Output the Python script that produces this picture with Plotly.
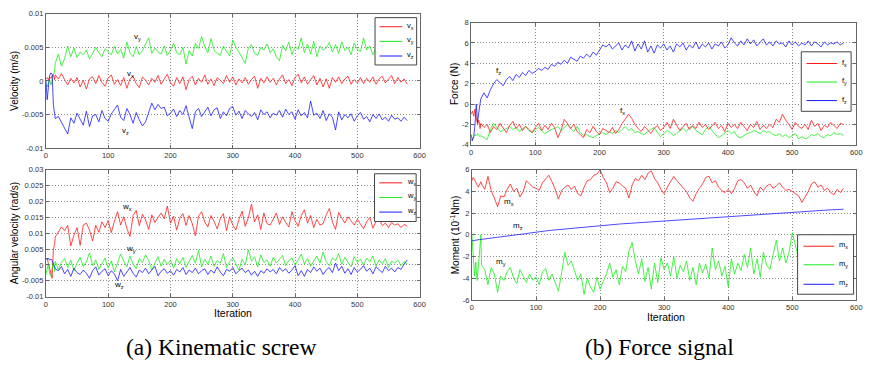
import plotly.graph_objects as go

W, H = 869, 369

# Iteration index: dense over the start-up transient, then every 5 iterations
iteration = list(range(0, 16, 2)) + list(range(15, 585, 5))

# ---- Kinematic screw: linear velocity, in 1e-3 m/s ----
vx_milli = [
    0.3, 0.5, 0.2, 0.6, 0.4, 0.8, 1.0, 0.2,
    0.9, 0.3, 1.1, 0.2, -0.6, 0.4, -0.3, 0.5, -0.9, 0.1,
    -1.2, 0.3, 0.6, -0.4, 0.8, -0.2, -0.8, 0.4, 0.9, -0.5,
    0.2, -0.7, 0.5, -1.1, 0.3, 0.7, -0.4, -1.0, 0.6, 0.1,
    -0.6, 0.4, -0.2, 0.8, -0.5, 0.3, 1.0, -0.3, -0.8, 0.5,
    -0.4, 0.6, -1.3, 0.2, 0.7, -0.6, 0.4, -0.2, 0.9, -0.5,
    0.3, -0.7, 0.5, 0.1, -0.4, 0.8, -0.2, 0.6, -0.6, 0.3,
    -0.3, 0.5, -0.5, 0.2, 0.7, -1.1, 0.4, -0.3, 0.6, -0.2,
    0.4, -0.6, 0.3, 0.9, -0.4, 0.2, -0.7, 0.5, 1.0, -0.3,
    0.6, -0.5, 0.2, 0.8, -0.6, 0.4, -0.9, 0.3, -1.1, 0.5,
    -0.2, 0.6, -0.4, 0.3, 0.7, -0.5, 0.2, -0.3, 0.5, -0.4,
    0.4, -0.2, 0.6, -0.5, 0.3, 0.7, -0.3, 0.2, 0.8, -0.4,
    0.5, -0.2, 0.3, -0.5,
]
vy_milli = [
    -0.5, -0.9, -0.3, 0.2, -0.6, 0.1, 0.8, 1.5,
    2.6, 4.0, 2.2, 3.3, 5.2, 3.6, 4.9, 3.5, 4.3, 3.9,
    4.6, 3.3, 4.1, 5.0, 4.2, 3.6, 4.8, 4.4, 3.9, 5.2,
    4.0, 4.7, 3.4, 5.8, 4.2, 3.6, 5.1, 3.9, 4.5, 5.5,
    6.4, 4.1, 4.9, 4.3, 4.0, 5.2, 3.8, 4.6, 5.6, 4.2,
    3.9, 5.0, 2.5, 4.5, 3.7, 5.6, 4.8, 6.6, 5.1, 4.2,
    6.3, 4.6, 4.1, 3.8, 5.2, 4.4, 3.7, 6.1, 5.0, 4.3,
    3.5, 2.6, 4.9, 5.4, 4.1, 3.8, 5.0, 4.6, 5.5, 4.2,
    4.8, 3.6, 3.0, 5.3, 4.5, 5.8, 3.9, 5.1, 4.7, 6.4,
    4.2, 5.5, 4.0, 5.9, 3.6, 5.2, 4.6, 4.9, 5.7, 4.3,
    5.4, 4.1, 5.8, 4.5, 5.0, 3.9, 5.6, 4.7, 4.4, 6.4,
    4.6, 5.2, 3.9, 5.0, 4.8, 5.4, 4.4, 5.1, 4.7, 5.3,
    4.9, 4.5, 5.2, 4.8,
]
vz_milli = [
    0.2, -2.8, -1.0, 0.8, 1.2, 1.0, -3.5, -5.2,
    -5.6, -5.3, -6.2, -7.0, -7.9, -5.5, -6.3, -4.8, -5.8, -6.6,
    -4.5, -6.8, -5.2, -5.0, -6.1, -4.4, -5.6, -6.0, -4.9, -4.2,
    -3.6, -5.4, -5.9, -4.1, -5.0, -6.3, -4.7, -5.8, -6.7, -6.1,
    -4.6, -3.3, -4.3, -3.5, -4.1, -3.9, -5.2, -4.8, -4.2, -5.3,
    -4.4, -5.0, -3.7, -5.5, -7.1, -4.6, -4.1, -5.3, -4.5, -3.9,
    -5.2, -4.3, -4.0, -5.6, -4.6, -5.2, -4.1, -3.8, -5.1, -4.5,
    -5.6, -4.4, -4.9, -5.3, -4.7, -5.8, -4.3, -5.0, -4.6, -5.5,
    -4.8, -5.1, -4.4, -5.4, -4.2, -5.0, -4.6, -5.7, -4.3, -5.2,
    -4.7, -5.5, -3.0, -5.1, -4.8, -5.6, -4.4, -5.9, -4.9, -5.4,
    -7.3, -4.6, -5.8, -5.0, -5.5, -4.9, -6.0, -5.2, -4.7, -5.7,
    -5.3, -6.1, -5.0, -5.6, -4.9, -5.8, -5.4, -6.0, -5.1, -5.7,
    -5.5, -6.0, -5.4, -5.9,
]

# ---- Kinematic screw: angular velocity, in 1e-3 rad/s ----
wx_milli = [
    1.8, 2.2, 0.5, -1.2, -3.0, -4.2, 5.0, 6.5,
    8.8, 10.5, 12.0, 10.8, 12.5, 6.0, 9.4, 11.8, 6.2, 12.6,
    13.2, 11.0, 7.6, 12.5, 10.3, 13.6, 11.8, 14.0, 10.2, 13.8,
    16.8, 12.6, 15.2, 11.5, 9.0, 15.6, 17.2, 12.4, 16.0, 14.2,
    11.2, 15.8, 13.4, 15.0, 16.4, 14.6, 18.6, 13.2, 15.4, 11.0,
    14.8, 16.2, 12.5, 15.6, 13.0, 9.2, 15.4, 16.8, 13.6, 12.0,
    15.6, 13.8, 11.4, 14.6, 16.2, 10.8, 15.2, 12.6, 11.0, 14.4,
    17.0, 12.2, 14.8, 19.2, 13.6, 15.8, 11.2, 16.4, 13.0, 12.6,
    14.6, 16.4, 12.8, 15.2, 13.4, 12.0, 16.8, 14.0, 12.2, 15.6,
    17.4, 13.2, 15.6, 11.8, 14.4, 12.6, 13.0, 15.8, 17.8, 13.6,
    11.2, 16.6, 14.8, 13.2, 15.2, 14.0, 12.6, 14.4, 13.0, 11.4,
    13.6, 15.0, 11.6, 13.8, 14.6, 12.4, 13.2, 11.8, 13.4, 12.6,
    13.0, 11.8, 12.8, 12.2,
]
wy_milli = [
    -3.0, -1.5, 0.5, -2.8, -3.5, -1.0, 0.8, -2.0,
    1.2, -1.5, 0.8, 2.0, -0.8, 1.5, -1.8, 0.6, 2.4, -0.5,
    1.0, 3.8, -0.2, 1.6, -1.4, 0.4, 2.2, -0.9, 1.3, -2.2,
    0.5, 3.5, 1.2, -0.6, 2.8, 0.3, -1.2, 2.0, 0.8, 3.2,
    1.4, -1.6, 0.6, 2.6, -0.4, 1.8, 0.2, 1.5, -1.0, 2.0,
    0.4, 2.4, -0.8, 1.2, 3.0, 0.6, 4.6, -0.6, 1.8, 0.2,
    2.8, -0.4, 1.4, 0.6, 3.6, -0.8, 1.0, 2.2, 0.4, -1.6,
    1.8, 0.0, 4.8, 1.2, 2.6, -0.6, 3.2, 0.8, 1.6, -0.4,
    2.4, 0.6, 1.8, 3.0, -0.2, 1.4, 2.2, 0.0, 1.6, 3.4,
    0.4, 2.0, -0.4, 1.2, 2.8, 0.6, 4.0, 1.0, -0.2, 2.2,
    1.4, 3.6, 0.2, 2.4, 1.0, -0.6, 2.6, 0.8, 1.8, 0.0,
    2.2, 1.0, 2.8, -0.4, 1.6, 0.4, 2.0, -0.8, 1.2, 0.6,
    1.6, -0.2, 1.0, 0.4,
]
wz_milli = [
    2.0, 1.8, 2.2, 1.5, 1.9, 1.4, 0.2, -0.6,
    -1.2, -1.8, -0.5, -2.8, -1.4, -3.6, -1.0, -2.4, -3.0, -1.6,
    -2.6, -4.2, -1.8, -0.6, -3.2, -2.0, -1.2, -3.4, -1.8, -2.8,
    -5.0, -1.4, -3.6, -2.2, -0.8, -2.6, -3.8, -1.6, -2.4, -1.0,
    -2.8, -1.6, -0.4, -3.4, -2.0, -1.2, -2.6, -1.8, -3.2, -1.4,
    -2.2, -0.8, -3.0, -1.6, -2.4, -1.0, -2.8, -1.8, -1.2, -3.0,
    -1.6, -2.6, -0.6, -2.2, -3.4, -1.4, -2.0, -0.8, -2.8, -1.8,
    -1.0, -2.4, -1.6, -3.2, -2.0, -3.6, -1.8, -2.6, -1.2, -2.2,
    -1.4, -2.8, -0.8, -2.0, -1.2, -2.6, -1.6, -0.2, -3.4, -1.8,
    -3.6, -1.4, -2.4, -0.6, -2.0, -1.0, -3.0, -1.6, -0.8, -2.4,
    0.6, -1.8, -0.4, -2.6, -1.2, -3.0, -0.8, -2.2, -1.4, -0.2,
    -2.0, -1.0, -2.8, -0.6, -1.6, -2.4, -0.4, -1.8, -1.0, -2.2,
    -0.8, -1.4, 0.2, 1.6,
]

# ---- Force signal: force in N ----
fx = [
    -1.0, -0.7, -1.2, -0.5, -1.4, -2.0, -1.6, -2.4,
    -1.9, -2.3, -2.0, -2.8, -2.2, -2.5, -1.9, -2.3, -2.8, -2.1,
    -1.7, -2.4, -2.0, -2.6, -2.2, -2.5, -2.8, -2.3, -1.9, -2.6,
    -2.1, -2.5, -1.9, -2.3, -3.3, -2.6, -1.5, -1.9, -2.4, -2.0,
    -2.7, -3.0, -3.3, -2.5, -2.8, -2.2, -2.7, -3.0, -2.4, -2.6,
    -2.8, -2.3, -2.9, -2.5, -1.9, -1.5, -1.0, -1.4, -2.0, -2.4,
    -2.7, -2.2, -2.5, -2.9, -2.4, -2.1, -2.6, -2.3, -1.8, -2.4,
    -1.5, -2.0, -2.6, -2.2, -1.9, -2.5, -2.1, -2.4, -1.8, -2.3,
    -2.0, -2.5, -2.2, -1.8, -2.4, -2.1, -2.7, -1.9, -2.3, -2.0,
    -2.4, -1.8, -2.2, -2.6, -2.0, -2.3, -1.7, -2.5, -2.1, -2.4,
    -2.0, -2.3, -1.5, -1.8, -1.0, -1.6, -2.0, -2.5, -1.8, -2.2,
    -2.4, -2.0, -2.5, -1.6, -2.2, -1.9, -2.6, -2.1, -2.3, -1.8,
    -2.1, -2.4, -1.9, -2.0,
]
fy = [
    -3.6, -3.4, -3.3, -3.0, -3.1, -2.9, -3.1, -3.2,
    -3.1, -3.3, -3.5, -2.5, -1.9, -2.3, -2.7, -2.6, -2.4, -2.2,
    -2.5, -2.3, -2.7, -2.4, -2.2, -2.6, -2.8, -2.5, -2.3, -2.6,
    -2.9, -2.7, -2.5, -2.4, -2.2, -2.6, -2.3, -2.0, -2.4, -2.7,
    -2.2, -2.8, -3.1, -3.0, -3.2, -3.3, -3.1, -2.9, -2.8, -3.0,
    -2.7, -2.9, -2.6, -2.8, -2.5, -2.2, -2.6, -2.4, -2.8, -2.7,
    -2.9, -3.0, -2.7, -2.5, -2.3, -2.8, -3.2, -2.9, -2.6, -2.8,
    -3.1, -2.9, -2.6, -2.4, -2.7, -2.3, -2.2, -2.6, -2.8, -3.0,
    -2.5, -2.2, -2.6, -2.9, -3.3, -3.1, -2.8, -2.6, -2.9, -2.7,
    -3.2, -3.3, -3.1, -2.9, -2.8, -2.6, -2.7, -2.9, -2.6, -2.8,
    -2.7, -3.0, -3.1, -2.9, -3.2, -3.0, -3.3, -3.1, -2.9, -3.4,
    -3.2, -3.4, -3.3, -3.0, -3.1, -2.9, -3.2, -3.3, -3.0, -3.1,
    -2.8, -3.0, -2.9, -3.1,
]
fz = [
    -3.0, -3.6, -3.2, -2.0, 0.0, -1.8, -0.8, 0.2,
    0.5, 1.1, 0.6, 1.4, 2.0, 2.4, 2.1, 1.8, 2.4, 2.7,
    2.3, 2.9, 2.6, 3.1, 2.8, 3.3, 3.0, 3.2, 3.5, 3.3,
    3.6, 3.4, 3.9, 3.7, 4.1, 3.9, 4.3, 4.0, 4.6, 4.4,
    4.2, 4.7, 4.5, 4.9, 4.6, 5.1, 4.8, 5.3, 5.8, 5.6,
    5.9, 5.4, 5.7, 6.0, 5.3, 5.8, 5.5, 6.2, 5.2, 5.9,
    5.4, 6.2, 5.1, 5.7, 5.0, 5.8, 5.5, 5.9, 5.3, 5.7,
    5.1, 5.9, 5.6, 6.0, 5.3, 5.8, 5.5, 6.1, 5.4, 5.9,
    5.6, 6.0, 5.4, 5.9, 5.7, 6.1, 5.5, 5.8, 6.5, 6.0,
    5.7, 6.2, 5.8, 6.4, 5.9, 6.3, 5.7, 6.1, 6.4, 5.8,
    6.1, 5.7, 6.2, 5.9, 6.0, 5.6, 6.2, 5.8, 6.1, 5.7,
    6.0, 5.8, 6.2, 5.7, 6.1, 5.9, 5.6, 6.1, 5.8, 6.0,
    5.9, 6.1, 5.8, 6.0,
]

# ---- Force signal: moment in 1e-1 Nm ----
mx = [
    5.0, 5.3, 5.1, 4.8, 4.6, 4.4, 4.7, 4.9,
    4.7, 4.2, 5.4, 4.1, 3.4, 2.6, 3.6, 3.5, 4.2, 4.7,
    4.0, 4.3, 3.5, 4.0, 5.0, 4.7, 4.4, 4.3, 4.1, 4.8,
    5.2, 5.5, 4.9, 4.2, 3.3, 4.1, 4.4, 4.6, 4.2, 4.5,
    3.8, 3.6, 4.4, 5.0, 5.1, 5.5, 5.6, 6.0, 5.3, 4.8,
    3.9, 4.3, 4.9, 4.8, 4.5, 4.3, 3.4, 4.6, 5.2, 5.0,
    5.5, 5.1, 5.7, 5.9, 5.2, 4.8, 4.2, 3.8, 4.4, 4.9,
    5.4, 5.0, 4.6, 4.3, 4.0, 3.4, 3.1, 3.8, 4.3, 4.7,
    5.3, 5.4, 4.8, 5.0, 4.4, 4.1, 3.9, 4.2, 3.8, 4.3,
    5.0, 5.1, 4.8, 4.3, 4.6, 4.0, 3.6, 4.4, 4.1, 4.5,
    4.7, 4.3, 4.5, 4.8, 4.4, 4.1, 4.2, 4.0, 3.8, 3.6,
    3.0, 3.5, 4.0, 4.7, 4.9, 4.4, 4.6, 4.1, 4.3, 3.9,
    3.7, 4.2, 3.9, 4.3,
]
my = [
    0.0, -1.8, -3.8, -2.5, -4.2, -3.0, -1.0, 0.0,
    -2.8, -3.2, -4.6, -3.0, -3.6, -5.3, -3.8, -4.2, -3.4, -3.0,
    -4.0, -4.5, -3.2, -3.8, -4.4, -3.6, -4.2, -3.9, -4.6, -3.4,
    -3.1, -4.2, -3.6, -4.4, -5.2, -3.5, -1.6, -2.8, -2.4, -3.3,
    -4.2, -3.6, -5.5, -4.0, -4.8, -5.3, -3.9, -5.0, -4.3, -3.6,
    -2.6, -3.9, -3.2, -4.6, -2.9, -3.4, -1.5, -0.7, -2.4, -3.6,
    -2.2, -4.3, -3.0, -5.0, -2.6, -4.4, -2.1, -3.2, -2.6, -3.8,
    -2.0, -4.0, -2.8, -3.4, -2.4, -4.2, -3.0, -4.6, -2.6, -3.5,
    -2.7, -4.0, -1.2, -3.2, -2.4, -3.8, -2.9, -4.8, -2.2, -3.6,
    -2.6, -3.3, -1.8, -3.0, -1.2, -3.6, -2.2, -3.9, -1.6, -2.8,
    -3.2, -1.8, -0.5, -2.4, -1.2, -2.6, -1.6, 0.2, -1.0, -2.2,
    -1.4, -2.6, -1.0, -2.2, -1.6, -2.8, -1.2, -2.0, -1.8, -2.4,
    -1.6, -2.2, -1.4, -2.0,
]
mz = [
    -0.55, -0.52, -0.50, -0.48, -0.47, -0.45, -0.43, -0.42,
    -0.41, -0.37, -0.33, -0.30, -0.25, -0.22, -0.18, -0.15, -0.10, -0.08,
    -0.05, -0.01, 0.03, 0.07, 0.12, 0.17, 0.22, 0.27, 0.30, 0.33,
    0.36, 0.40, 0.43, 0.46, 0.50, 0.52, 0.55, 0.58, 0.61, 0.63,
    0.66, 0.69, 0.71, 0.74, 0.76, 0.79, 0.82, 0.85, 0.88, 0.91,
    0.94, 0.96, 0.98, 1.00, 1.02, 1.04, 1.06, 1.08, 1.10, 1.12,
    1.14, 1.16, 1.18, 1.20, 1.22, 1.24, 1.26, 1.28, 1.30, 1.33,
    1.35, 1.37, 1.40, 1.42, 1.44, 1.46, 1.48, 1.50, 1.52, 1.54,
    1.56, 1.58, 1.60, 1.62, 1.64, 1.66, 1.69, 1.71, 1.74, 1.76,
    1.78, 1.80, 1.82, 1.84, 1.86, 1.88, 1.90, 1.92, 1.94, 1.96,
    1.98, 2.00, 2.02, 2.03, 2.05, 2.07, 2.09, 2.11, 2.12, 2.14,
    2.16, 2.18, 2.19, 2.21, 2.23, 2.24, 2.26, 2.28, 2.29, 2.31,
    2.32, 2.34, 2.35, 2.37,
]

for series in (vx_milli, vy_milli, vz_milli, wx_milli, wy_milli, wz_milli,
               fx, fy, fz, mx, my, mz):
    assert len(series) == len(iteration), len(series)

MILLI = 1e-3
vx = [v * MILLI for v in vx_milli]
vy = [v * MILLI for v in vy_milli]
vz = [v * MILLI for v in vz_milli]
wx = [v * MILLI for v in wx_milli]
wy = [v * MILLI for v in wy_milli]
wz = [v * MILLI for v in wz_milli]

x_ticks = [0, 100, 200, 300, 400, 500, 600]
vel_ticks = [-0.01, -0.005, 0, 0.005, 0.01]
vel_labels = ["-0.01", "-0.005", "0", "0.005", "0.01"]
ang_ticks = [-0.01, -0.005, 0, 0.005, 0.01, 0.015, 0.02, 0.025, 0.03]
ang_labels = ["-0.01", "-0.005", "0", "0.005", "0.01", "0.015", "0.02", "0.025", "0.03"]
force_ticks = [-4, -2, 0, 2, 4, 6, 8]
moment_ticks = [-6, -4, -2, 0, 2, 4, 6]

RED, GREEN, BLUE = "#ff1a1a", "#1aee1a", "#1a1aff"
SANS = "Liberation Sans, Arial, sans-serif"
SERIF = "Liberation Serif, Times New Roman, DejaVu Serif, serif"


def px(x):
    return x / W


def py(y):
    return 1 - y / H


fig = go.Figure()

panels = [
    # (axis suffix, series list)
    ("", [(vx, RED), (vy, GREEN), (vz, BLUE)]),
    ("2", [(wx, RED), (wy, GREEN), (wz, BLUE)]),
    ("3", [(fy, GREEN), (fx, RED), (fz, BLUE)]),
    ("4", [(mx, RED), (my, GREEN), (mz, BLUE)]),
]
for suffix, series in panels:
    for values, color in series:
        fig.add_trace(go.Scatter(
            x=iteration, y=values, mode="lines",
            line=dict(color=color, width=0.8),
            xaxis="x" + suffix, yaxis="y" + suffix,
            showlegend=False, hoverinfo="skip",
        ))

axis_common = dict(
    showline=True, linecolor="#666666", linewidth=1, mirror="ticks",
    ticks="inside", ticklen=3, tickcolor="#666666",
    showgrid=True, gridcolor="#8a8a8a", griddash="1px,2px", gridwidth=1,
    zeroline=False, tickfont=dict(family=SANS, size=7.5, color="#333333"),
)

# panel frames in pixels: (left, right, top, bottom)
frames = {
    "": (44.3, 421.5, 10.0, 147.7),
    "2": (44.3, 421.5, 170.0, 300.0),
    "3": (473.5, 862.3, 19.0, 144.3),
    "4": (474.3, 862.3, 170.0, 303.3),
}
yspec = {
    "": dict(range=[-0.01, 0.01], tickvals=vel_ticks, ticktext=vel_labels),
    "2": dict(range=[-0.01, 0.03], tickvals=ang_ticks, ticktext=ang_labels),
    "3": dict(range=[-4, 8], tickvals=force_ticks,
              ticktext=[str(t) for t in force_ticks]),
    "4": dict(range=[-6, 6], tickvals=moment_ticks,
              ticktext=[str(t) for t in moment_ticks]),
}
layout_axes = {}
for suffix, (l, r, t, b) in frames.items():
    layout_axes["xaxis" + suffix] = dict(
        axis_common, domain=[px(l), px(r)], anchor="y" + suffix,
        range=[0, 600], tickvals=x_ticks, ticktext=[str(v) for v in x_ticks],
    )
    layout_axes["yaxis" + suffix] = dict(
        axis_common, domain=[py(b), py(t)], anchor="x" + suffix, **yspec[suffix],
    )

annotations = []
shapes = []


def paper_text(x, y, text, size, angle=0, family=SANS, color="#000000", xanchor="center"):
    annotations.append(dict(
        x=px(x), y=py(y), xref="paper", yref="paper", text=text,
        showarrow=False, textangle=angle, xanchor=xanchor, yanchor="middle",
        font=dict(family=family, size=size, color=color),
    ))


# axis titles
paper_text(12, 79, "Velocity (m/s)", 10, angle=-90)
paper_text(12, 235, "Angular velocity (rad/s)", 10, angle=-90)
paper_text(456.7, 81.5, "Force (N)", 10, angle=-90)
paper_text(456.7, 236.5, "Moment (10<sup>-1</sup>Nm)", 10, angle=-90)
paper_text(233, 317, "Iteration", 10.5)
paper_text(670, 320.5, "Iteration", 10.5)

# sub-figure captions
paper_text(221.5, 352, "(a) Kinematic screw", 23.5, family=SERIF)
paper_text(663.5, 352, "(b) Force signal", 23.5, family=SERIF)

# labels placed next to the curves
curve_labels = [
    ("", 147, 0.0066, "v<sub>y</sub>"),
    ("", 136, 0.0011, "v<sub>x</sub>"),
    ("", 128, -0.0074, "v<sub>z</sub>"),
    ("2", 131, 0.0182, "w<sub>x</sub>"),
    ("2", 136, 0.0049, "w<sub>y</sub>"),
    ("2", 118, -0.0064, "w<sub>z</sub>"),
    ("3", 42, 3.2, "f<sub>z</sub>"),
    ("3", 236, -0.7, "f<sub>x</sub>"),
    ("4", 58, 3.0, "m<sub>x</sub>"),
    ("4", 72, 0.8, "m<sub>z</sub>"),
    ("4", 46, -2.5, "m<sub>y</sub>"),
]
for suffix, xv, yv, text in curve_labels:
    annotations.append(dict(
        x=xv, y=yv, xref="x" + suffix, yref="y" + suffix, text=text,
        showarrow=False, font=dict(family=SANS, size=8, color="#000000"),
    ))

# boxed legends: (box l, r, t, b, line x0, x1, text x, row ys, labels)
legends = [
    (376.5, 418.5, 14.0, 62.5, 381, 404, 407, (23.3, 38.3, 53.3),
     ["v<sub>x</sub>", "v<sub>y</sub>", "v<sub>z</sub>"]),
    (376.0, 418.0, 174.0, 223.0, 380.7, 404, 406.7, (183.3, 198.3, 213.3),
     ["w<sub>x</sub>", "w<sub>y</sub>", "w<sub>z</sub>"]),
    (806.7, 857.0, 49.0, 110.0, 812, 842.7, 846, (61, 80, 99),
     ["f<sub>x</sub>", "f<sub>y</sub>", "f<sub>z</sub>"]),
    (803.0, 859.5, 236.5, 297.5, 809, 840, 843, (248.3, 267.3, 287.3),
     ["m<sub>x</sub>", "m<sub>y</sub>", "m<sub>z</sub>"]),
]
for l, r, t, b, lx0, lx1, tx, rows, labels in legends:
    shapes.append(dict(
        type="rect", xref="paper", yref="paper",
        x0=px(l), x1=px(r), y0=py(b), y1=py(t),
        line=dict(color="#444444", width=1), fillcolor="white", layer="above",
    ))
    for yy, color, label in zip(rows, (RED, GREEN, BLUE), labels):
        shapes.append(dict(
            type="line", xref="paper", yref="paper",
            x0=px(lx0), x1=px(lx1), y0=py(yy), y1=py(yy),
            line=dict(color=color, width=1), layer="above",
        ))
        paper_text(tx, yy - 1, label, 7.5, xanchor="left")

fig.update_layout(
    width=W, height=H, margin=dict(l=0, r=0, t=0, b=0),
    paper_bgcolor="white", plot_bgcolor="white",
    showlegend=False, annotations=annotations, shapes=shapes,
    **layout_axes,
)

fig.write_html("out.html")
